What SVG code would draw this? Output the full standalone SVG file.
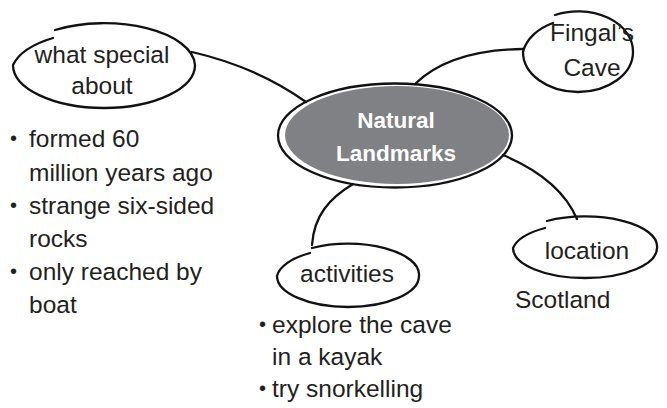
<svg xmlns="http://www.w3.org/2000/svg" width="667" height="408" viewBox="0 0 667 408">
<style>
.ln{fill:none;stroke:#111;stroke-width:2.3;stroke-linecap:round}
.t{font-family:"Liberation Sans",Arial,sans-serif;font-size:24.5px;fill:#231f20}
.c{text-anchor:middle}
.w{font-family:"Liberation Sans",Arial,sans-serif;font-size:22.5px;font-weight:bold;fill:#fff;text-anchor:middle}
.b{font-family:"Liberation Sans",Arial,sans-serif;font-size:20px;fill:#231f20}
</style>
<rect width="667" height="408" fill="#fff"/>
<g id="connectors">
<path class="ln" d="M192,52 Q257,67 306,102"/>
<path class="ln" d="M415,84 Q450,50 523,49"/>
<path class="ln" d="M503,155 Q560,179 577,219"/>
<path class="ln" d="M353,184 C330,198 314,215 312,245"/>
</g>
<g id="center">
<ellipse cx="397" cy="135" rx="112" ry="49" fill="#808184"/>
<ellipse cx="395" cy="135.5" rx="117" ry="52" class="ln" stroke-width="2.5"/>
<text class="w" x="396" y="128">Natural</text>
<text class="w" x="396" y="161">Landmarks</text>
</g>
<g id="what-special">
<path class="ln" d="M55,30 A91,43 0 0,1 195,65 A91,43 0 0,1 104,108 A91,43 0 0,1 13,65 A91,43 0 0,1 53,38"/>
<text class="t c" x="102" y="63" font-size="23">what special</text>
<text class="t c" x="102" y="94" font-size="23">about</text>
</g>
<g id="fingals-cave">
<path class="ln" d="M555,15 A55,40 0 0,1 633,52 A55,40 0 0,1 578,92 A55,40 0 0,1 523,52 A55,40 0 0,1 553,23"/>
<text class="t c" x="592" y="41" font-size="22">Fingal’s</text>
<text class="t c" x="592" y="76" font-size="22">Cave</text>
</g>
<g id="location">
<path class="ln" d="M547,221 A72,30 0 0,1 657,248 A72,30 0 0,1 585,278 A72,30 0 0,1 513,248 A72,30 0 0,1 545,228"/>
<text class="t c" x="587" y="259" font-size="24">location</text>
<text class="t" x="515" y="308">Scotland</text>
</g>
<g id="activities">
<path class="ln" d="M312,248 A71,31 0 0,1 419,276 A71,31 0 0,1 348,307 A71,31 0 0,1 277,276 A71,31 0 0,1 310,253"/>
<text class="t c" x="347" y="282" font-size="24">activities</text>
<text class="b" x="259" y="331">•</text>
<text class="t" x="272" y="333">explore the cave</text>
<text class="t" x="272" y="365">in a kayak</text>
<text class="b" x="259" y="395">•</text>
<text class="t" x="272" y="397">try snorkelling</text>
</g>
<g id="what-special-list">
<text class="b" x="10" y="145">•</text>
<text class="t" x="29" y="147">formed 60</text>
<text class="t" x="29" y="181">million years ago</text>
<text class="b" x="10" y="212">•</text>
<text class="t" x="29" y="214">strange six-sided</text>
<text class="t" x="29" y="247">rocks</text>
<text class="b" x="10" y="278">•</text>
<text class="t" x="29" y="280">only reached by</text>
<text class="t" x="29" y="313">boat</text>
</g>
</svg>
